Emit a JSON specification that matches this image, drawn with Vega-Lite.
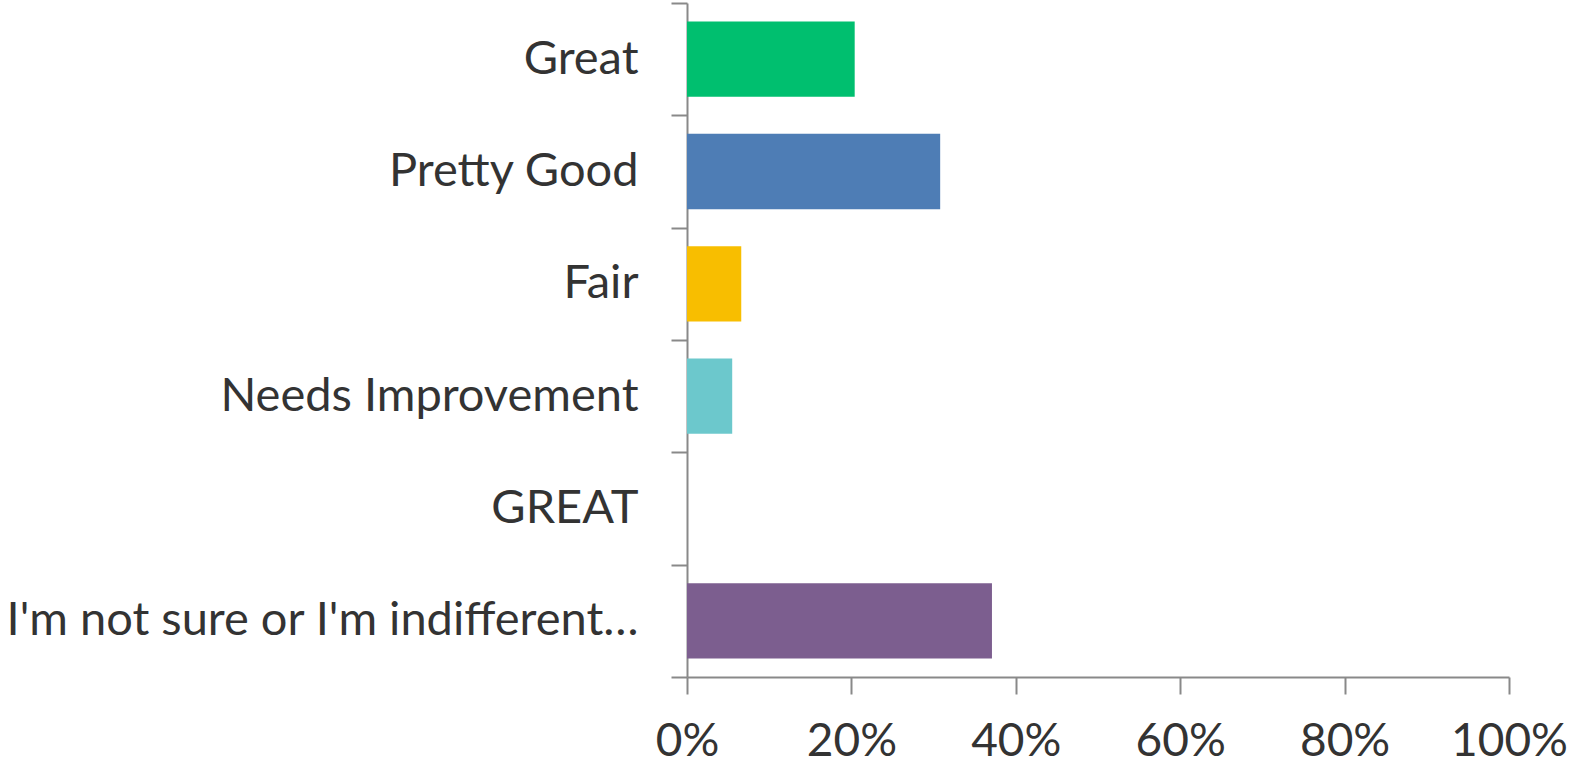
{
  "$schema": "https://vega.github.io/schema/vega-lite/v6.json",
  "width": 822,
  "height": 674,
  "autosize": {"type": "none"},
  "padding": {"left": 687, "top": 3, "right": 62, "bottom": 91},
  "background": "white",
  "data": {
    "values": [
      {"answer": "Great", "pct": 0.204},
      {"answer": "Pretty Good", "pct": 0.308},
      {"answer": "Fair", "pct": 0.066},
      {"answer": "Needs Improvement", "pct": 0.055},
      {"answer": "GREAT", "pct": 0.0},
      {"answer": "I'm not sure or I'm indifferent…", "pct": 0.371}
    ]
  },
  "mark": {"type": "bar", "height": {"band": 0.67}},
  "encoding": {
    "y": {
      "field": "answer",
      "type": "nominal",
      "sort": null,
      "scale": {"paddingInner": 0, "paddingOuter": 0},
      "axis": {
        "title": null,
        "domainColor": "#898989",
        "domainWidth": 2,
        "tickColor": "#898989",
        "tickWidth": 2,
        "tickSize": 16,
        "tickBand": "extent",
        "labelFont": "Lato",
        "labelFontSize": 47,
        "labelColor": "#333333",
        "labelPadding": 33,
        "labelLimit": 800
      }
    },
    "x": {
      "field": "pct",
      "type": "quantitative",
      "scale": {"domain": [0, 1], "nice": false},
      "axis": {
        "title": null,
        "format": ".0%",
        "values": [0, 0.2, 0.4, 0.6, 0.8, 1],
        "grid": false,
        "domainColor": "#898989",
        "domainWidth": 2,
        "tickColor": "#898989",
        "tickWidth": 2,
        "tickSize": 17,
        "labelFont": "Lato",
        "labelFontSize": 46,
        "labelColor": "#333333",
        "labelPadding": 25,
        "labelFlush": false,
        "labelOverlap": false
      }
    },
    "color": {
      "field": "answer",
      "type": "nominal",
      "sort": null,
      "legend": null,
      "scale": {
        "domain": ["Great", "Pretty Good", "Fair", "Needs Improvement", "GREAT", "I'm not sure or I'm indifferent…"],
        "range": ["#00BF6F", "#4E7DB5", "#F8BE00", "#6CC8CC", "#999999", "#7C5E8F"]
      }
    }
  },
  "config": {"view": {"stroke": null}}
}
